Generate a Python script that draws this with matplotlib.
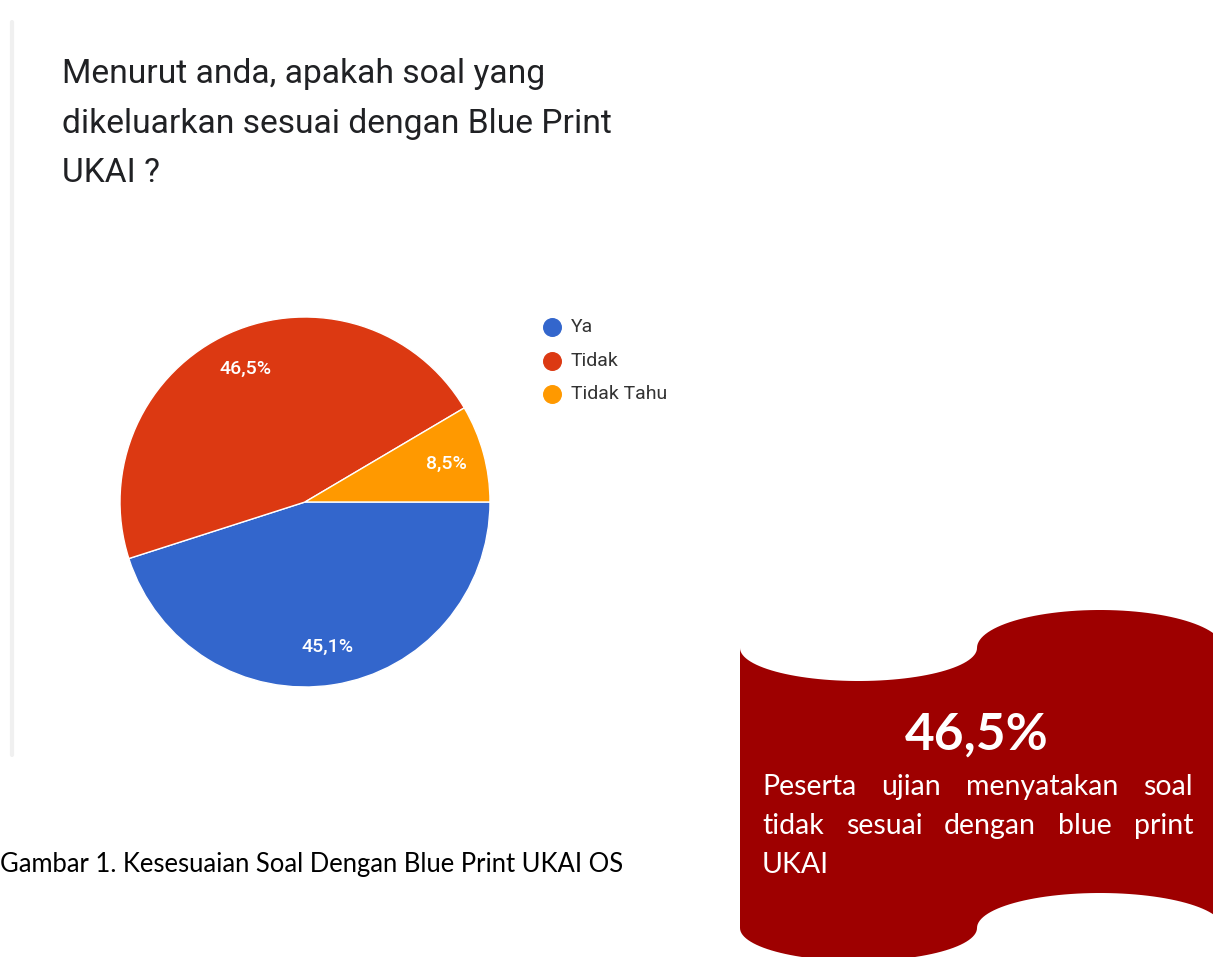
import numpy as np
import matplotlib
matplotlib.use("Agg")
import matplotlib.pyplot as plt
from matplotlib.path import Path
from matplotlib.patches import PathPatch

W, H = 1213, 957

title_lines = [
    "Menurut anda, apakah soal yang",
    "dikeluarkan sesuai dengan Blue Print",
    "UKAI ?",
]
categories = ["Ya", "Tidak", "Tidak Tahu"]
values = [45.1, 46.5, 8.5]
colors = ["#3366CC", "#DC3912", "#FF9900"]
caption = "Gambar 1. Kesesuaian Soal Dengan Blue Print UKAI OS"
note_lines = [
    ["Peserta", "ujian", "menyatakan", "soal"],
    ["tidak", "sesuai", "dengan", "blue", "print"],
    ["UKAI"],
]


def fmt_pct(v):
    return f"{v:.1f}%".replace(".", ",")


def fit_width(fig, txt, target_px):
    r = fig.canvas.get_renderer()
    w = txt.get_window_extent(r).width
    txt.set_fontsize(txt.get_fontsize() * target_px / w)
    return txt.get_fontsize()


def half_ellipse(cx, cy, a, b, t0, t1, down=True, n=60):
    t = np.linspace(t0, t1, n)
    sign = 1 if down else -1
    return np.column_stack([cx - a * np.cos(t), cy + sign * b * np.sin(t)])


fig = plt.figure(figsize=(W / 100, H / 100), dpi=100)
fig.patch.set_facecolor("white")

bg = fig.add_axes([0, 0, 1, 1])
bg.set_xlim(0, W)
bg.set_ylim(H, 0)
bg.axis("off")

# google forms card edge
bg.plot([12, 12], [22, 755], color="#f0f0f0", lw=3, solid_capstyle="round")

# title
t0 = bg.text(62, 83, title_lines[0], family="Roboto", fontsize=20, color="#202124", va="baseline")
size = fit_width(fig, t0, 482)
for line, y in zip(title_lines[1:], [133, 182]):
    bg.text(62, y, line, family="Roboto", fontsize=size, color="#202124", va="baseline")

# pie
cx, cy, rad = 305, 502, 185
ax = fig.add_axes([(cx - rad) / W, (H - cy - rad) / H, 2 * rad / W, 2 * rad / H])
pct_iter = iter([fmt_pct(v) for v in values])
ax.pie(
    values,
    colors=colors,
    startangle=0,
    counterclock=False,
    autopct=lambda p: next(pct_iter),
    pctdistance=0.79,
    wedgeprops=dict(edgecolor="white", linewidth=1),
    textprops=dict(color="white", fontsize=14, family="Roboto", weight="medium"),
)
ax.set_xlim(-1, 1)
ax.set_ylim(-1, 1)

# legend
for i, (cat, col) in enumerate(zip(categories, colors)):
    y = 327 + 33.5 * i
    bg.scatter(552, y, s=160, color=col, zorder=3)
    bg.text(571, y, cat, family="Roboto", fontsize=14, color="#333333", va="center")

# caption
cap = bg.text(0, 872, caption, family="Lato", fontsize=18, color="black", va="baseline")
fit_width(fig, cap, 622)

# banner shape
top = np.vstack([
    half_ellipse(858.5, 648, 118.5, 33, 0, np.pi, down=True),
    half_ellipse(1100, 648, 123, 38, 0, np.pi, down=False),
])
bottom = np.vstack([
    half_ellipse(1100, 928, -123, 35, 0, np.pi, down=False),
    half_ellipse(858.5, 928, -118.5, 33, 0, np.pi, down=True),
])
verts = np.vstack([top, bottom, top[:1]])
codes = [Path.MOVETO] + [Path.LINETO] * (len(verts) - 2) + [Path.CLOSEPOLY]
bg.add_patch(PathPatch(Path(verts, codes), facecolor="#9E0000", edgecolor="none", zorder=1))

bg.text(977, 750, fmt_pct(values[1]), family="Lato", weight="bold", fontsize=37,
        color="white", ha="center", va="baseline", zorder=2)

# justified note text
x_left, x_right = 762, 1193
r = fig.canvas.get_renderer()
for words, y in zip(note_lines, [795, 834, 873]):
    arts = [bg.text(0, y, w, family="Lato", fontsize=20.5, color="white", va="baseline", zorder=2)
            for w in words]
    widths = [a.get_window_extent(r).width for a in arts]
    gap = (x_right - x_left - sum(widths)) / (len(words) - 1) if len(words) > 1 else 0
    x = x_left
    for a, w in zip(arts, widths):
        a.set_x(x)
        x += w + gap

fig.savefig("out.png", dpi=100)
